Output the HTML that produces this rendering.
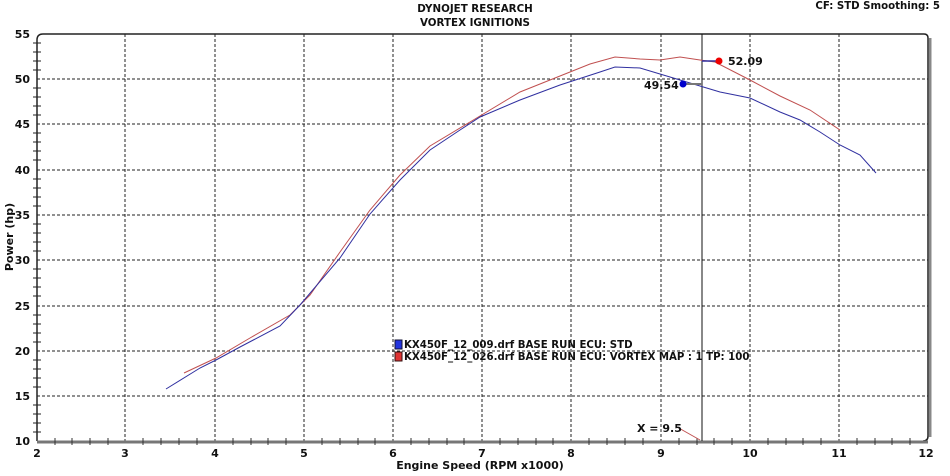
<!DOCTYPE html>
<html><head><meta charset="utf-8"><style>
body{margin:0;background:#fff;}
svg text{font-family:"DejaVu Sans","Liberation Sans",sans-serif;font-weight:bold;fill:#111;}
</style></head><body>
<svg width="950" height="471" xmlns="http://www.w3.org/2000/svg" font-size="11">
<text x="475" y="12" text-anchor="middle" style="font-size:10.3px">DYNOJET RESEARCH</text>
<text x="475" y="26" text-anchor="middle" style="font-size:10.3px">VORTEX IGNITIONS</text>
<text x="940" y="9" text-anchor="end" style="font-size:10.2px">CF: STD  Smoothing: 5</text>
<g stroke="#222" stroke-dasharray="3,2" stroke-width="1">
<line x1="125" y1="34" x2="125" y2="441"/><line x1="215" y1="34" x2="215" y2="441"/><line x1="304" y1="34" x2="304" y2="441"/><line x1="393" y1="34" x2="393" y2="441"/><line x1="482" y1="34" x2="482" y2="441"/><line x1="571" y1="34" x2="571" y2="441"/><line x1="661" y1="34" x2="661" y2="441"/><line x1="750" y1="34" x2="750" y2="441"/><line x1="839" y1="34" x2="839" y2="441"/>
<line x1="37" y1="79" x2="928" y2="79"/><line x1="37" y1="124" x2="928" y2="124"/><line x1="37" y1="170" x2="928" y2="170"/><line x1="37" y1="215" x2="928" y2="215"/><line x1="37" y1="260" x2="928" y2="260"/><line x1="37" y1="306" x2="928" y2="306"/><line x1="37" y1="351" x2="928" y2="351"/><line x1="37" y1="396" x2="928" y2="396"/>
</g>
<path d="M37,441 V40 Q37,34 43,34 H924 Q928,34 928,38 V436 Q928,441 923,441" fill="none" stroke="#222" stroke-width="1.5"/>
<line x1="930" y1="38" x2="930" y2="437" stroke="#888" stroke-width="3"/>
<line x1="37" y1="442" x2="928" y2="442" stroke="#777" stroke-width="3"/>
<g stroke="#222">
<path d="M33,43h8M33,52h8M33,61h8M33,70h8M33,88h8M33,97h8M33,106h8M33,115h8M33,133h8M33,142h8M33,151h8M33,160h8M33,179h8M33,188h8M33,197h8M33,206h8M33,224h8M33,233h8M33,242h8M33,251h8M33,269h8M33,278h8M33,287h8M33,296h8M33,315h8M33,324h8M33,333h8M33,342h8M33,360h8M33,369h8M33,378h8M33,387h8M33,405h8M33,414h8M33,423h8M33,432h8"/>
</g>
<g stroke="#333">
<path d="M55,438v7M72,438v7M90,438v7M108,438v7M143,438v7M161,438v7M179,438v7M197,438v7M233,438v7M251,438v7M268,438v7M286,438v7M322,438v7M340,438v7M358,438v7M375,438v7M411,438v7M429,438v7M447,438v7M464,438v7M500,438v7M518,438v7M536,438v7M553,438v7M589,438v7M607,438v7M625,438v7M643,438v7M679,438v7M697,438v7M714,438v7M732,438v7M768,438v7M786,438v7M803,438v7M821,438v7M857,438v7M875,438v7M892,438v7M910,438v7"/>
</g>
<g text-anchor="end">
<text x="30" y="38">55</text><text x="30" y="83">50</text><text x="30" y="128">45</text><text x="30" y="174">40</text><text x="30" y="219">35</text><text x="30" y="264">30</text><text x="30" y="310">25</text><text x="30" y="355">20</text><text x="30" y="400">15</text><text x="30" y="445">10</text>
</g>
<g text-anchor="middle">
<text x="37" y="457">2</text><text x="125" y="457">3</text><text x="215" y="457">4</text><text x="304" y="457">5</text><text x="393" y="457">6</text><text x="482" y="457">7</text><text x="571" y="457">8</text><text x="661" y="457">9</text><text x="750" y="457">10</text><text x="839" y="457">11</text><text x="926" y="457">12</text>
</g>
<text x="480" y="469" text-anchor="middle">Engine Speed (RPM x1000)</text>
<text transform="translate(13,237) rotate(-90)" text-anchor="middle">Power (hp)</text>
<line x1="702" y1="34" x2="702" y2="441" stroke="#111"/>
<polyline fill="none" stroke="#c05050" stroke-width="1" points="184,373 216,358 250,338 290,315 310,295 340,252 370,210 400,175 430,146 470,122 520,92 560,76 590,64 615,57 640,59 660,60 680,57 700,60 715,62 750,80 780,96 810,110 840,130"/>
<polyline fill="none" stroke="#3030a0" stroke-width="1" points="166,389 200,368 216,360 240,347 280,326 300,305 340,258 370,214 400,180 430,150 460,130 480,117 520,100 560,85 600,72 615,67 640,68 660,74 680,80 700,86 720,92 750,98 780,112 800,120 820,132 840,145 860,155 876,173"/>
<line x1="683" y1="84" x2="702" y2="84" stroke="#777" stroke-width="2"/>
<line x1="702" y1="61" x2="719" y2="61" stroke="#3030a0" stroke-width="1.5"/>
<circle cx="719" cy="61" r="3.5" fill="#e00"/><circle cx="683" cy="84" r="3.5" fill="#00c"/>
<text x="728" y="65">52.09</text><text x="644" y="89">49.54</text>
<line x1="677" y1="427" x2="700" y2="440" stroke="#c05050"/>
<text x="637" y="432">X = 9.5</text>
<rect x="395" y="340" width="7" height="9" fill="#2233dd" stroke="#113"/>
<rect x="395" y="352" width="7" height="9" fill="#dd3333" stroke="#311"/>
<text x="404" y="348" style="font-size:10.2px">KX450F_12_009.drf BASE RUN ECU: STD</text>
<text x="404" y="360" style="font-size:10.2px">KX450F_12_026.drf BASE RUN ECU: VORTEX MAP : 1 TP: 100</text>
</svg>
</body></html>
